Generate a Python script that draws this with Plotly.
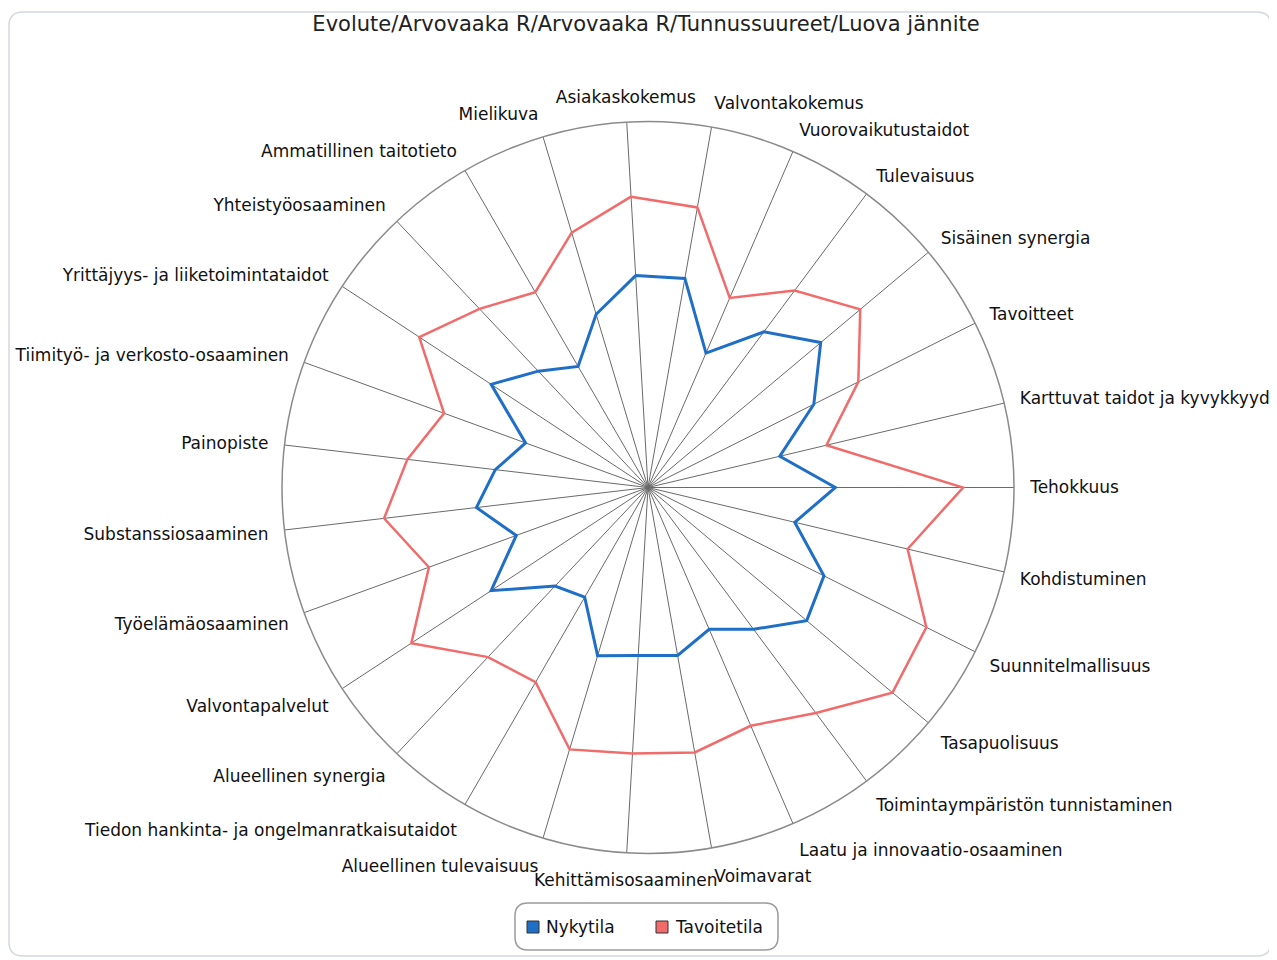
import plotly.graph_objects as go

W, H = 1277, 960
OFF = 8  # page body margin, shift drawing so page pixels line up

# categories clockwise, starting at the top
categories = [
    "Asiakaskokemus", "Valvontakokemus", "Vuorovaikutustaidot", "Tulevaisuus",
    "Sisäinen synergia", "Tavoitteet", "Karttuvat taidot ja kyvykkyydet", "Tehokkuus",
    "Kohdistuminen", "Suunnitelmallisuus", "Tasapuolisuus",
    "Toimintaympäristön tunnistaminen", "Laatu ja innovaatio-osaaminen", "Voimavarat",
    "Kehittämisosaaminen", "Alueellinen tulevaisuus",
    "Tiedon hankinta- ja ongelmanratkaisutaidot", "Alueellinen synergia",
    "Valvontapalvelut", "Työelämäosaaminen", "Substanssiosaaminen", "Painopiste",
    "Tiimityö- ja verkosto-osaaminen", "Yrittäjyys- ja liiketoimintataidot",
    "Yhteistyöosaaminen", "Ammatillinen taitotieto", "Mielikuva",
]

nykytila = [58.0, 58.0, 40.0, 53.0, 61.6, 50.7, 37.0, 51.2, 41.2, 53.8, 56.6, 48.3, 42.2, 46.6,
            46.0, 48.0, 34.6, 37.0, 51.3, 38.3, 47.2, 42.0, 35.6, 51.3, 43.7, 38.2, 49.4]
tavoitetila = [79.6, 77.7, 56.4, 67.1, 75.7, 64.3, 50.1, 86.1, 72.9, 85.1, 87.2, 76.8, 70.9, 73.5,
               72.8, 74.7, 61.4, 63.7, 77.4, 63.7, 72.6, 66.2, 59.3, 74.8, 67.1, 61.6, 72.7]

series_names = ["Nykytila", "Tavoitetila"]
series_colors = ["#1f6fc6", "#f26b6b"]
series_widths = [3, 2.5]

fig = go.Figure()

for name, vals, col, lw in zip(series_names, [nykytila, tavoitetila], series_colors, series_widths):
    fig.add_trace(go.Scatterpolar(
        r=vals + vals[:1], theta=categories + categories[:1],
        mode="lines", line=dict(color=col, width=lw),
        name=name, showlegend=False,
    ))


def px(x):
    return (x - OFF) / W


def py(y):
    return 1 - (y - OFF) / H


def rounded_rect(x0, y0, x1, y1, r):
    rx, ry = r / W, r / H
    X0, X1 = px(x0), px(x1)
    Y0, Y1 = py(y0), py(y1)  # Y0 top, Y1 bottom
    return (f"M {X0+rx},{Y0} L {X1-rx},{Y0} Q {X1},{Y0} {X1},{Y0-ry} "
            f"L {X1},{Y1+ry} Q {X1},{Y1} {X1-rx},{Y1} L {X0+rx},{Y1} "
            f"Q {X0},{Y1} {X0},{Y1+ry} L {X0},{Y0-ry} Q {X0},{Y0} {X0+rx},{Y0} Z")


# plot geometry (page pixels)
cx, cy, R = 648, 487.5, 366

shapes = [
    dict(type="path", xref="paper", yref="paper", path=rounded_rect(9, 12, 1271, 956, 14),
         line=dict(color="#d4d8de", width=1.5), layer="below"),
    dict(type="path", xref="paper", yref="paper", path=rounded_rect(515, 903, 778, 950, 13),
         line=dict(color="#9a9a9a", width=1.5), layer="below"),
]
annotations = []

# hand-drawn legend to match the swatch/text spacing
legend_x = [527, 656]
for name, col, lx in zip(series_names, series_colors, legend_x):
    shapes.append(dict(type="rect", xref="paper", yref="paper",
                       x0=px(lx), x1=px(lx + 12), y0=py(933), y1=py(921),
                       fillcolor=col, line=dict(color="#333", width=1)))
    annotations.append(dict(text=name, xref="paper", yref="paper", x=px(lx + 17), y=py(927),
                            xanchor="left", yanchor="middle", showarrow=False,
                            font=dict(size=17, color="#111")))

fig.update_layout(
    width=W, height=H,
    margin=dict(l=0, r=0, t=0, b=0),
    paper_bgcolor="white",
    showlegend=False,
    font=dict(family="DejaVu Sans", color="#111"),
    title=dict(text="Evolute/Arvovaaka R/Arvovaaka R/Tunnussuureet/Luova jännite",
               x=px(646), xanchor="center", y=py(24), yanchor="middle",
               font=dict(size=21, color="#222")),
    polar=dict(
        domain=dict(x=[px(cx - R), px(cx + R)], y=[py(cy + R), py(cy - R)]),
        bgcolor="white",
        radialaxis=dict(range=[0, 100], visible=False, showgrid=False),
        angularaxis=dict(
            rotation=93.333, direction="clockwise",
            showgrid=True, gridcolor="#6a6a6a", gridwidth=1.2,
            showline=True, linecolor="#8a8a8a", linewidth=1.5,
            ticks="outside", ticklen=12, tickcolor="rgba(0,0,0,0)",
            tickfont=dict(size=17, color="#111"),
        ),
    ),
    shapes=shapes,
    annotations=annotations,
)

fig.write_html("out.html")
